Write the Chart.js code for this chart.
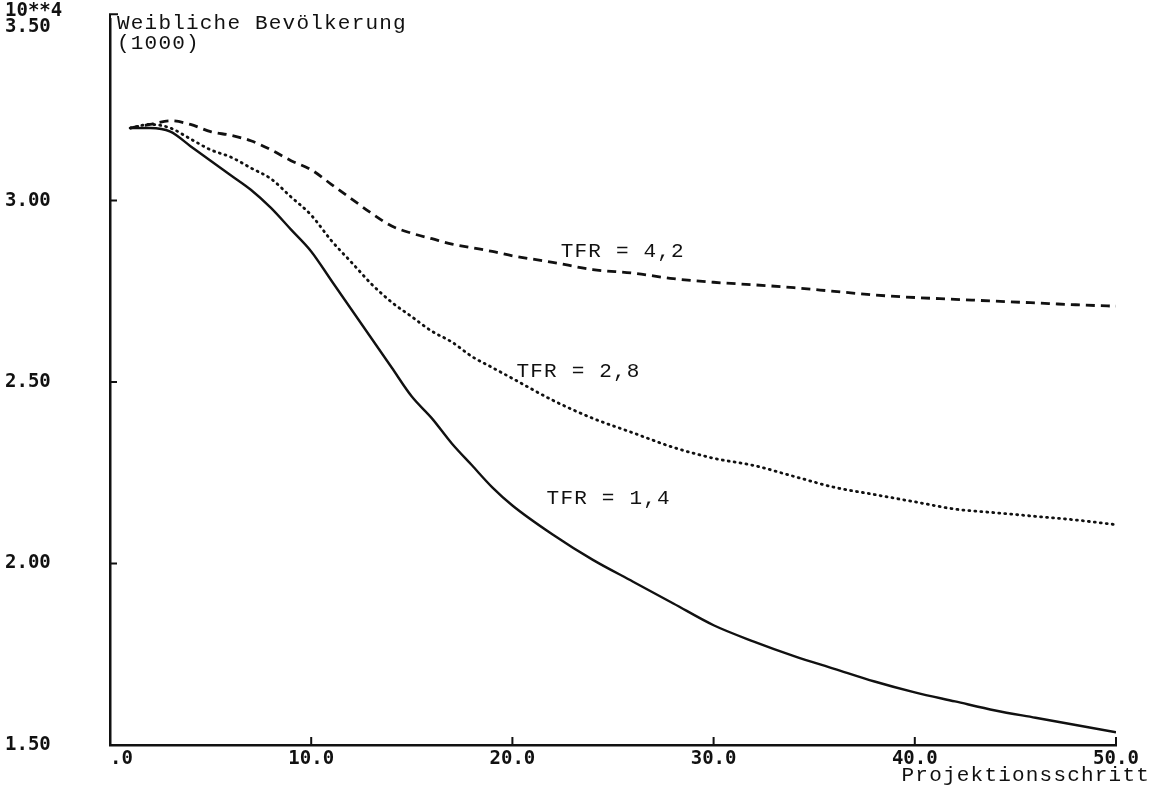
<!DOCTYPE html>
<html>
<head>
<meta charset="utf-8">
<script src="https://cdn.jsdelivr.net/npm/chart.js@4.4.1/dist/chart.umd.min.js"></script>
<style>
  html, body { margin: 0; padding: 0; background: #fff; }
  #wrap { width: 1153px; height: 791px; }
</style>
</head>
<body>
<div id="wrap"><canvas id="chart" width="1153" height="791"></canvas></div>
<script>
// ──────────────────────────────────────────────
//  Daten
// ──────────────────────────────────────────────

const schritte = [1, 2, 3, 4, 5, 6, 7, 8, 9, 10, 11, 12, 13, 14, 15, 16, 17, 18, 19, 20,
  22, 24, 26, 28, 30, 32, 34, 36, 38, 40, 42, 44, 46, 48, 50];

// TFR = 1,4 (durchgezogen)
const tfr14 = [3.20, 3.20, 3.19, 3.15, 3.11, 3.07, 3.03, 2.98, 2.92, 2.86, 2.78, 2.70, 2.62, 2.54, 2.46, 2.40, 2.33, 2.27, 2.21, 2.16,
  2.08, 2.01, 1.95, 1.89, 1.83, 1.785, 1.745, 1.71, 1.675, 1.645, 1.62, 1.595, 1.575, 1.555, 1.535];

// TFR = 2,8 (gepunktet)
const tfr28 = [3.20, 3.21, 3.20, 3.17, 3.14, 3.12, 3.09, 3.06, 3.01, 2.96, 2.89, 2.83, 2.77, 2.72, 2.68, 2.64, 2.61, 2.57, 2.54, 2.51,
  2.45, 2.40, 2.36, 2.32, 2.29, 2.27, 2.24, 2.21, 2.19, 2.17, 2.15, 2.14, 2.13, 2.12, 2.107];

// TFR = 4,2 (gestrichelt)
const tfr42 = [3.20, 3.21, 3.22, 3.21, 3.19, 3.18, 3.165, 3.14, 3.11, 3.085, 3.045, 3.005, 2.965, 2.93, 2.91, 2.895, 2.88, 2.87, 2.86, 2.848,
  2.83, 2.81, 2.80, 2.785, 2.775, 2.768, 2.76, 2.75, 2.74, 2.733, 2.728, 2.723, 2.718, 2.713, 2.709];

const xTicks = [0, 10, 20, 30, 40, 50];
const xTickLabels = ['  .0', '10.0', '20.0', '30.0', '40.0', '50.0'];
const yTicks = [1.5, 2.0, 2.5, 3.0, 3.5];
const yTickLabels = ['1.50', '2.00', '2.50', '3.00', ['10**4', '3.50']];

const kurvenNamen = ['TFR = 1,4', 'TFR = 2,8', 'TFR = 4,2'];
const namenX = [21.7, 20.2, 22.4];
const namenY = [2.18, 2.53, 2.86];

// ──────────────────────────────────────────────
//  Helpers
// ──────────────────────────────────────────────

const punkte = werte => schritte.map((s, i) => ({ x: s, y: werte[i] }));
const TINTE = '#111';
const FONT_TEXT = '21px "Liberation Mono", "Courier New", monospace';
const fontAchse = { family: '"DejaVu Sans Mono", monospace', size: 19, weight: 'bold', lineHeight: 0.85 };

function schreibe(ctx, text, x, y, align) {
  ctx.save();
  ctx.font = FONT_TEXT;
  ctx.fillStyle = TINTE;
  ctx.textAlign = align || 'left';
  ctx.textBaseline = 'middle';
  if ('letterSpacing' in ctx) ctx.letterSpacing = '1.2px';
  ctx.fillText(text, x, y);
  ctx.restore();
}

// Beschriftungen und die kleinen Innen-Striche der Achsen
const beschriftung = {
  id: 'beschriftung',
  afterDraw(chart) {
    const { ctx, chartArea: a, scales: { x, y } } = chart;

    ctx.save();
    ctx.strokeStyle = TINTE;
    ctx.lineWidth = 2;
    ctx.beginPath();
    // Striche nach innen
    yTicks.slice(1, -1).forEach(v => {
      const py = y.getPixelForValue(v);
      ctx.moveTo(a.left, py); ctx.lineTo(a.left + 7, py);
    });
    xTicks.slice(1).forEach(v => {
      const px = x.getPixelForValue(v);
      ctx.moveTo(px, a.bottom); ctx.lineTo(px, a.bottom - 8);
    });
    // oberer Haken der y-Achse
    ctx.moveTo(a.left - 1, a.top - 5); ctx.lineTo(a.left + 8, a.top - 5);
    ctx.moveTo(a.left, a.top - 6); ctx.lineTo(a.left, a.top);
    ctx.stroke();
    ctx.restore();

    // Achsentitel
    schreibe(ctx, 'Weibliche Bevölkerung', a.left + 7, 23);
    schreibe(ctx, '(1000)', a.left + 7, 43);
    schreibe(ctx, 'Projektionsschritt', 1150, 775, 'right');

    // Kurvennamen
    kurvenNamen.forEach((t, i) => {
      schreibe(ctx, t, x.getPixelForValue(namenX[i]), y.getPixelForValue(namenY[i]));
    });
  }
};

// ──────────────────────────────────────────────
//  Grafik
// ──────────────────────────────────────────────

const basisLinie = { borderColor: TINTE, pointRadius: 0, fill: false, cubicInterpolationMode: 'monotone' };

new Chart(document.getElementById('chart'), {
  type: 'line',
  data: {
    datasets: [
      { ...basisLinie, label: kurvenNamen[0], data: punkte(tfr14), borderWidth: 2.4 },
      { ...basisLinie, label: kurvenNamen[1], data: punkte(tfr28), borderWidth: 2.8, borderDash: [1, 5], borderCapStyle: 'round' },
      { ...basisLinie, label: kurvenNamen[2], data: punkte(tfr42), borderWidth: 2.8, borderDash: [9, 6] },
    ],
  },
  options: {
    responsive: false,
    animation: false,
    events: [],
    layout: { padding: { top: 18, right: 37, left: 5, bottom: 0 } },
    plugins: { legend: { display: false }, tooltip: { enabled: false } },
    scales: {
      x: {
        type: 'linear',
        min: 0,
        max: 50,
        afterBuildTicks: s => { s.ticks = xTicks.map(v => ({ value: v })); },
        afterFit: s => { s.height = 46; },
        grid: { display: false, drawTicks: false },
        border: { display: true, color: TINTE, width: 2.5 },
        ticks: {
          color: TINTE,
          font: fontAchse,
          padding: 6,
          maxRotation: 0,
          callback: v => xTickLabels[xTicks.indexOf(v)],
        },
      },
      y: {
        type: 'linear',
        min: 1.5,
        max: 3.5,
        afterBuildTicks: s => { s.ticks = yTicks.map(v => ({ value: v })); },
        afterFit: s => { s.width = 105; },
        grid: { display: false, drawTicks: false },
        border: { display: true, color: TINTE, width: 2.5 },
        ticks: {
          color: TINTE,
          font: fontAchse,
          crossAlign: 'far',
          callback: v => yTickLabels[yTicks.indexOf(v)],
        },
      },
    },
  },
  plugins: [beschriftung],
});
</script>
</body>
</html>
